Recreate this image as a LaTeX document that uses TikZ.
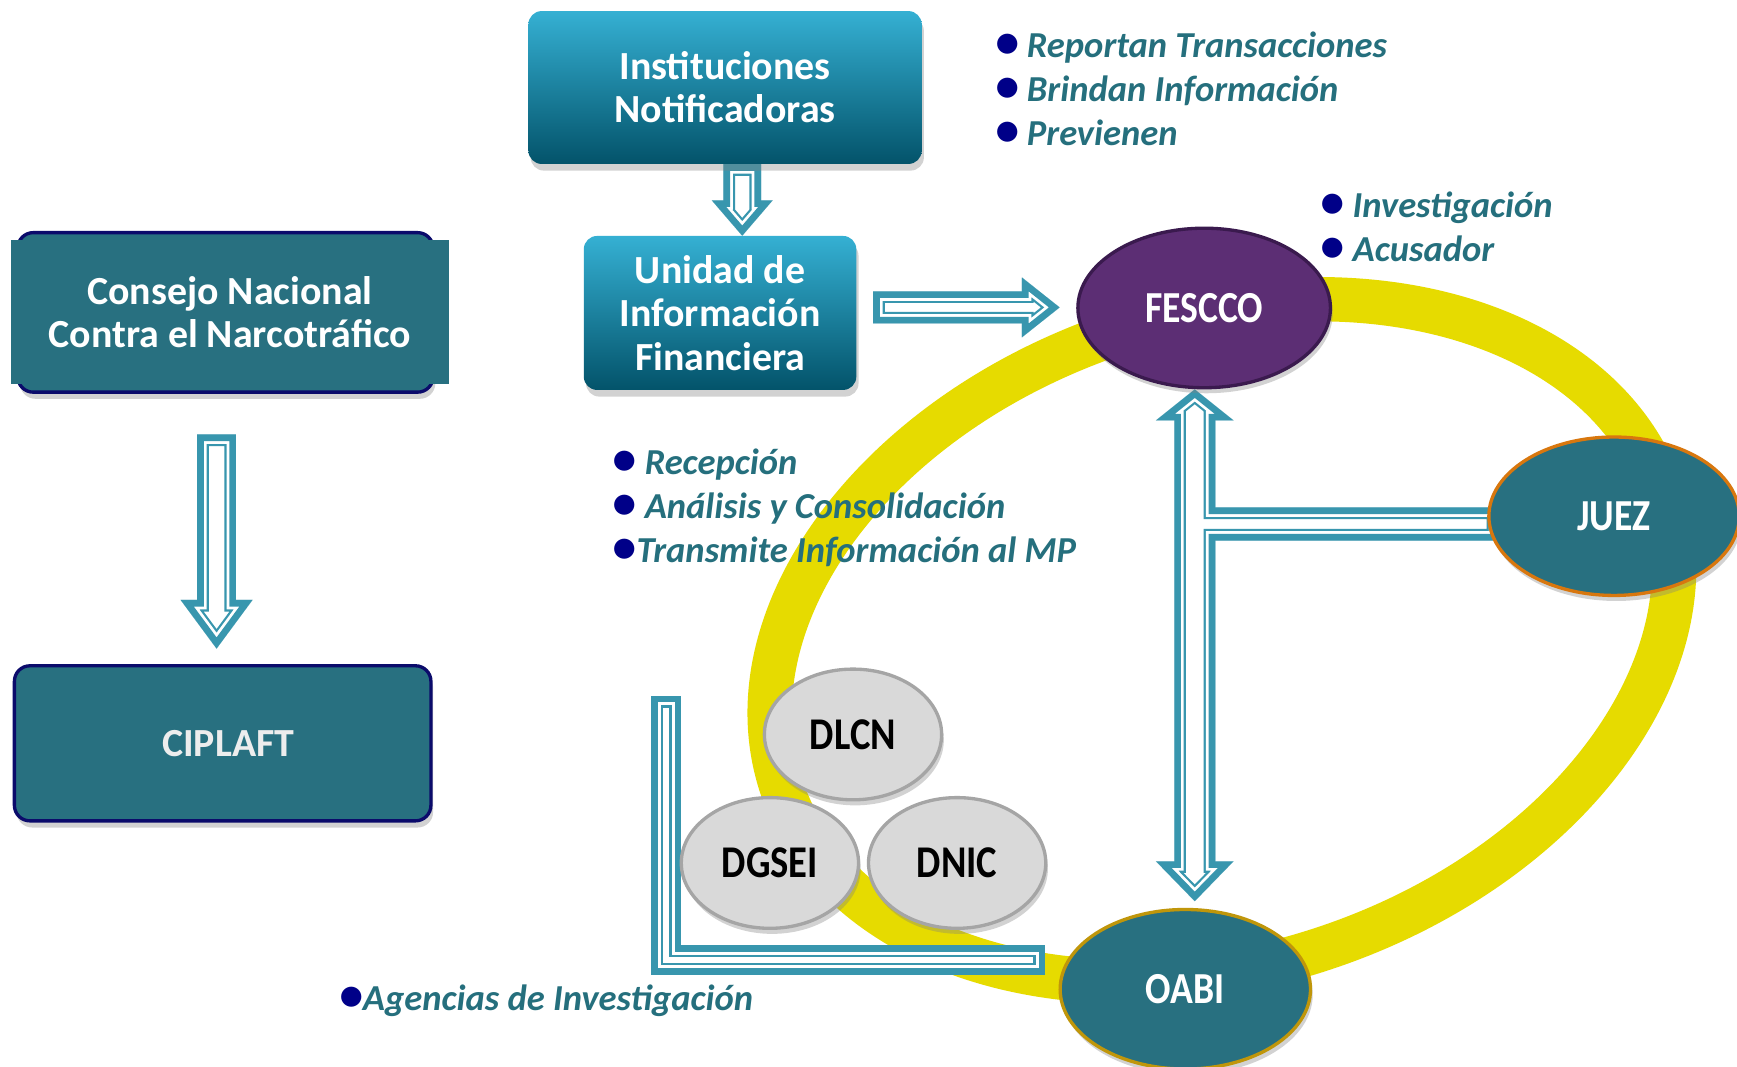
\documentclass[tikz,border=0pt]{standalone}
\usepackage{fontspec}
\usepackage{graphicx}
\newfontfamily\calibri{Carlito}
\newfontfamily\calibrinarrow[FakeStretch=0.85]{Carlito}
\usetikzlibrary{shapes.geometric,shadows,calc,backgrounds}

\definecolor{boxtop}{HTML}{35B0D3}
\definecolor{boxbottom}{HTML}{03536A}
\definecolor{tealfill}{HTML}{287080}
\definecolor{navyedge}{HTML}{0B0B6B}
\definecolor{fesccofill}{HTML}{5C2E74}
\definecolor{fesccoedge}{HTML}{3A1A4E}
\definecolor{juezedge}{HTML}{D8770E}
\definecolor{oabiedge}{HTML}{C0960A}
\definecolor{agencyfill}{HTML}{D9D9D9}
\definecolor{agencyedge}{HTML}{A5A5A5}
\definecolor{ringyellow}{HTML}{E6DB00}
\definecolor{arrowteal}{HTML}{3896AE}
\definecolor{bullettext}{HTML}{256F7D}
\definecolor{bulletnavy}{HTML}{000088}
\definecolor{ciplafttext}{HTML}{EDEDED}

\newcommand\bul{{\color{bulletnavy}\scalebox{1.3}{\textbullet}}}

% outlined block arrow: outer band, thin gap, thin inner line
\newcommand\hollowarrow[1]{%
  \fill[white] #1;
  \begin{scope}
    \clip #1;
    \draw[arrowteal, line width=21pt] #1;
    \draw[white, line width=17pt] #1;
    \draw[arrowteal, line width=12pt] #1;
  \end{scope}}

\tikzset{
  gradbox/.style={rectangle, rounded corners=12pt, inner sep=0pt,
    top color=boxtop, bottom color=boxbottom, text=white, align=center,
    font=\calibri\bfseries\fontsize{36}{39}\selectfont,
    drop shadow={shadow xshift=2pt, shadow yshift=-6pt, opacity=0.35}},
  tealbox/.style={rectangle, inner sep=0pt, fill=tealfill, text=white, align=center,
    font=\calibri\bfseries\fontsize{36}{39}\selectfont},
  bigoval/.style={ellipse, inner sep=0pt, line width=3pt, fill=tealfill, text=white,
    minimum width=226pt, minimum height=143pt,
    font=\calibrinarrow\bfseries\fontsize{40}{40}\selectfont,
    drop shadow={shadow xshift=2pt, shadow yshift=-5pt, opacity=0.35}},
  agency/.style={ellipse, inner sep=0pt, line width=3pt, fill=agencyfill, draw=agencyedge,
    text=black, minimum width=160pt, minimum height=118pt,
    font=\calibrinarrow\bfseries\fontsize{41}{41}\selectfont,
    drop shadow={shadow xshift=2pt, shadow yshift=-5pt, opacity=0.35}},
  bullets/.style={anchor=west, inner sep=0pt, align=left, text=bullettext,
    font=\calibri\bfseries\itshape\fontsize{33}{40}\selectfont},
  ring/.style={draw=ringyellow, line width=40pt},
  lbar/.style={draw=arrowteal, line width=27pt, line cap=rect,
    postaction={draw=white, line width=15pt, line cap=rect},
    postaction={draw=arrowteal, line width=9.6pt, line cap=rect},
    postaction={draw=white, line width=5.6pt, line cap=rect}}
}

\begin{document}
\begin{tikzpicture}[x=1pt,y=-1pt]

%%% frame
\useasboundingbox (0,0) rectangle (1568,963);

%% Top boxes
\node[gradbox, minimum width=355pt, minimum height=138pt] (inst) at (654.5,79)
  {Instituciones\\Notificadoras};
\node[gradbox, minimum width=246pt, minimum height=139pt] (uif) at (650,282.5)
  {Unidad de\\Información\\Financiera};

% CONSEJO
\path[draw=navyedge, line width=3pt, fill=tealfill, rounded corners=14pt,
  drop shadow={shadow xshift=2pt, shadow yshift=-6pt, opacity=0.35}] (16,210) rectangle (391,354);
\node[tealbox, minimum width=395pt, minimum height=130pt] (consejo) at (207.5,282)
  {Consejo Nacional\\Contra el Narcotráfico};

% CIPLAFT
\node[tealbox, rounded corners=14pt, draw=navyedge, line width=3pt, text=ciplafttext,
  minimum width=376pt, minimum height=140pt,
  drop shadow={shadow xshift=2pt, shadow yshift=-6pt, opacity=0.35}] (ciplaft) at (201,671)
  {\hspace*{10pt}CIPLAFT};

%% Ovals
\node[bigoval, fill=fesccofill, draw=fesccoedge, minimum width=228pt, minimum height=144pt] (fescco) at (1087,278) {FESCCO};
\node[bigoval, draw=juezedge] (juez) at (1457,466) {JUEZ};
\node[bigoval, draw=oabiedge, minimum height=144pt] (oabi) at (1070,893) {OABI};

% agencies
\node[agency] (dlcn) at (770,663) {DLCN};
\node[agency] (dgsei) at (695,779) {DGSEI};
\node[agency] (dnic) at (864,779) {DNIC};

%% Bullet lists
\node[bullets] (instlist) at (898,80)
  {\bul~Reportan Transacciones\\ \bul~Brindan Información\\ \bul~Previenen};
\node[bullets] (fesccolist) at (1192,205)
  {\bul~Investigación\\ \bul~Acusador};
\node[bullets] (uiflist) at (553,458.5)
  {\bul~Recepción\\ \bul~Análisis y Consolidación\\ \bul Transmite Información al MP};
\node[bullets] (agencylist) at (306,903) {\bul Agencias de Investigación};

\begin{pgfonlayer}{background}
\fill[white] (0,0) rectangle (1568,963);

%% Yellow ring
\draw[ring] [shift={(1103,578)}, rotate=18.4] (0,0) ellipse [x radius=419, y radius=293];

% INST -> UIF
\hollowarrow{let \p1=($(inst.south)+(15.5,0)$), \p2=($(uif.north)+(20,0)$) in
  (\x1-17pt,\y1) -- (\x1+17pt,\y1) -- (\x1+17pt,\y2+32pt) -- (\x1+27.5pt,\y2+32pt)
  -- (\x1,\y2) -- (\x1-27.5pt,\y2+32pt) -- (\x1-17pt,\y2+32pt) -- cycle}

% CONSEJO -> CIPLAFT
\hollowarrow{let \p1=($(consejo.south)+(-12,45)$), \p2=($(ciplaft.north)+(-5.5,-14)$) in
  (\x1-17.5pt,\y1) -- (\x1+17.5pt,\y1) -- (\x1+17.5pt,\y2+44pt) -- (\x1+32.5pt,\y2+44pt)
  -- (\x1,\y2) -- (\x1-32.5pt,\y2+44pt) -- (\x1-17.5pt,\y2+44pt) -- cycle}

% UIF -> FESCCO
\hollowarrow{let \p1=($(uif.east)+(15,-5)$), \p2=($(fescco.west)+(-15,0)$) in
  (\x1,\y1+14.5pt) -- (\x2-34pt,\y1+14.5pt) -- (\x2-34pt,\y1+27pt) -- (\x2,\y1)
  -- (\x2-34pt,\y1-27pt) -- (\x2-34pt,\y1-14.5pt) -- (\x1,\y1-14.5pt) -- cycle}

% FESCCO <-> OABI, with JUEZ
\hollowarrow{let \p1=($(fescco.south)+(-8.5,0)$), \p2=($(oabi.north)+(8.5,-6)$),
  \p3=($(juez.west)+(10,7)$) in
  (\x1,\y1) -- (\x1+35pt,\y1-28pt) -- (\x1+18.5pt,\y1-28pt) -- (\x1+18.5pt,\y3+15pt)
  -- (\x3,\y3+15pt) -- (\x3,\y3-15pt) -- (\x1+18.5pt,\y3-15pt) -- (\x1+18.5pt,\y2+36pt)
  -- (\x1+35pt,\y2+36pt) -- (\x1,\y2) -- (\x1-35pt,\y2+36pt) -- (\x1-18.5pt,\y2+36pt)
  -- (\x1-18.5pt,\y1-28pt) -- (\x1-35pt,\y1-28pt) -- cycle}

% agencies bracket -> OABI
\coordinate (agtop) at (601.5,641.5);
\draw[lbar] (agtop) |- ($(oabi.west)+(-25.5,-26.5)$);
\end{pgfonlayer}

\end{tikzpicture}
\end{document}
